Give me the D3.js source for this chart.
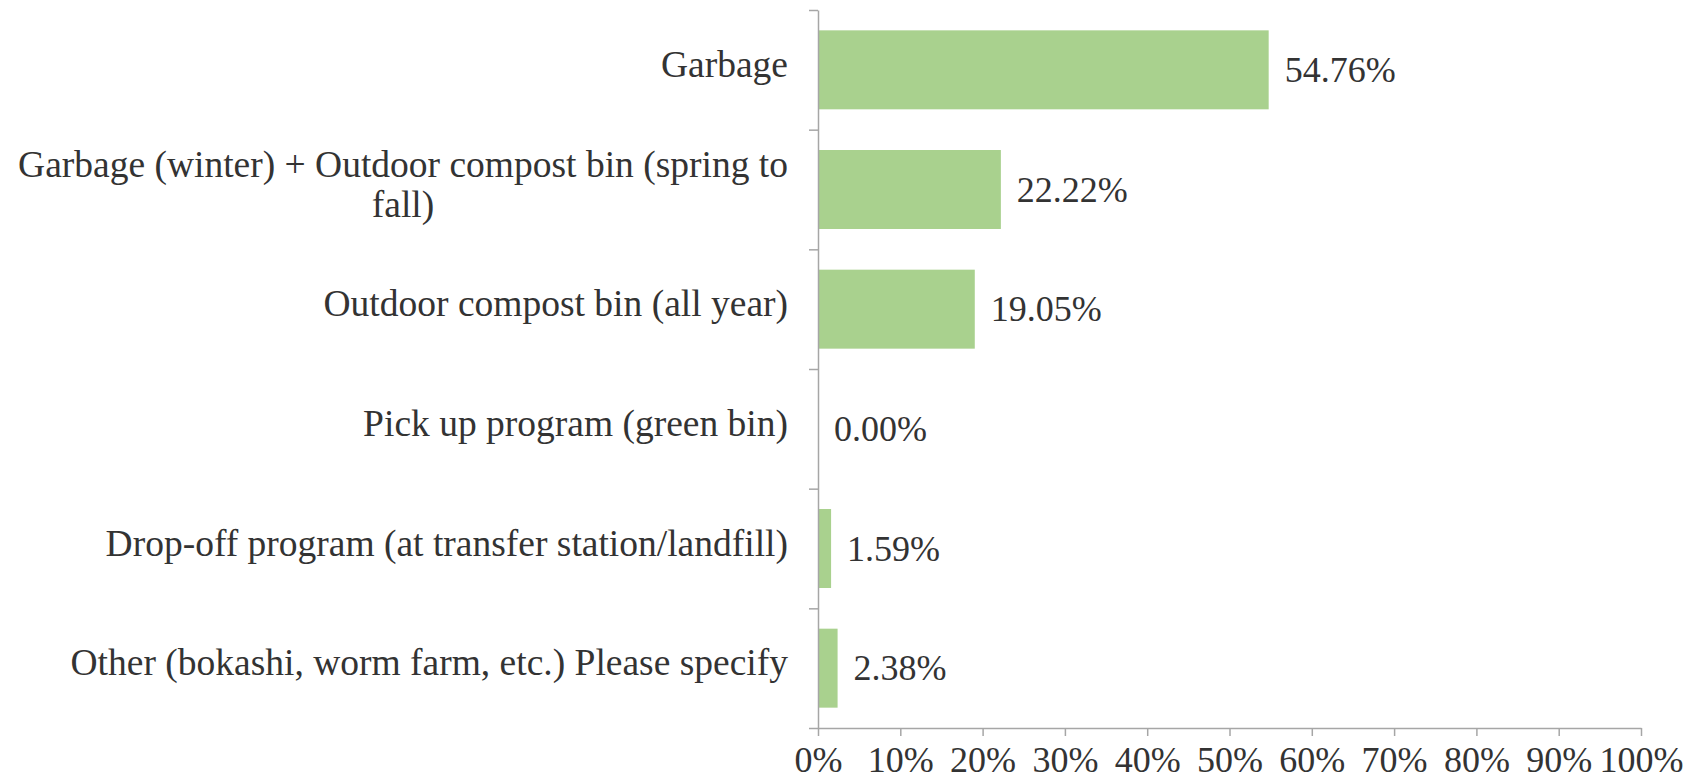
<!DOCTYPE html>
<html>
<head>
<meta charset="utf-8">
<script src="https://cdn.jsdelivr.net/npm/d3@7"></script>
<style>
  body { margin: 0; background: #fff; }
  text { font-family: "Liberation Serif", "Times New Roman", serif; fill: #333; }
</style>
</head>
<body>
<div id="chart"></div>
<script>
// Data
const categories = [
  "Garbage",
  "Garbage (winter) + Outdoor compost bin (spring to fall)",
  "Outdoor compost bin (all year)",
  "Pick up program (green bin)",
  "Drop-off program (at transfer station/landfill)",
  "Other (bokashi, worm farm, etc.) Please specify"
];
const shares = [0.5476, 0.2222, 0.1905, 0.0000, 0.0159, 0.0238];
const xTicks = [0, 0.1, 0.2, 0.3, 0.4, 0.5, 0.6, 0.7, 0.8, 0.9, 1.0];

const W = 1708, H = 777;
const plot = {left: 818, right: 1641, top: 10, bottom: 728};
const fontSize = 36;
const catFontSize = 37.5;
const axisColor = "#a6a6a6";

const svg = d3.select("#chart")
    .append("svg")
    .attr("width", W)
    .attr("height", H);

// Scales
const x = d3.scaleLinear().domain([0, 1]).range([plot.left, plot.right]);
const y = d3.scaleBand()
    .domain(categories)
    .range([plot.top, plot.bottom])
    .paddingInner(0.34)
    .paddingOuter(0.17);
// boundaries between categories, for the y tick marks
const yEdge = d3.scaleLinear().domain([0, categories.length]).range([plot.top, plot.bottom]);

// Bars
svg.selectAll("rect.bar")
    .data(shares)
    .enter()
    .append("rect")
    .attr("class", "bar")
    .attr("x", x(0))
    .attr("y", (d, i) => y(categories[i]))
    .attr("width", d => x(d) - x(0))
    .attr("height", y.bandwidth())
    .attr("fill", "#a9d18e");

// Y axis (ticks at category boundaries)
const yAxis = svg.append("g")
    .attr("transform", `translate(${plot.left},0)`)
    .call(d3.axisLeft(yEdge)
        .tickValues(d3.range(0, categories.length + 1))
        .tickSize(9)
        .tickSizeOuter(0)
        .tickFormat(""));
yAxis.select(".domain").attr("stroke", axisColor).attr("stroke-width", 1.5);
yAxis.selectAll(".tick line").attr("stroke", axisColor).attr("stroke-width", 1.5);

// X axis
const xAxis = svg.append("g")
    .attr("transform", `translate(0,${plot.bottom})`)
    .call(d3.axisBottom(x)
        .tickValues(xTicks)
        .tickSize(8)
        .tickSizeOuter(0)
        .tickFormat(d3.format(".0%")));
xAxis.select(".domain").attr("stroke", axisColor).attr("stroke-width", 1.5);
xAxis.selectAll(".tick line").attr("stroke", axisColor).attr("stroke-width", 1.5);
xAxis.selectAll(".tick text")
    .attr("fill", "#333")
    .attr("dy", null)
    .attr("y", 44)
    .style("font-size", fontSize + "px")
    .style("font-family", "'Liberation Serif', serif");

// Category labels, wrapped to fit; wrapped lines are centred on each other
const maxWidth = 790;
const labels = svg.selectAll("text.cat")
    .data(categories)
    .enter()
    .append("text")
    .attr("class", "cat")
    .style("font-size", catFontSize + "px");

labels.each(function(d) {
    const t = d3.select(this);
    const words = d.split(" ");
    const lines = [];
    let line = [];
    const probe = t.append("tspan");
    const measure = s => { probe.text(s); return probe.node().getComputedTextLength(); };
    words.forEach(w => {
        line.push(w);
        if (measure(line.join(" ")) > maxWidth && line.length > 1) {
            line.pop();
            lines.push(line.join(" "));
            line = [w];
        }
    });
    lines.push(line.join(" "));
    const blockW = d3.max(lines, measure);
    probe.remove();
    const cy = y(d) + y.bandwidth() / 2;
    const xr = plot.left - 30;
    lines.forEach((l, i) => {
        t.append("tspan")
            .attr("text-anchor", lines.length > 1 ? "middle" : "end")
            .attr("x", lines.length > 1 ? xr - blockW / 2 : xr)
            .attr("y", cy + 7 + (i - (lines.length - 1) / 2) * 40)
            .text(l);
    });
});

// Value labels
svg.selectAll("text.val")
    .data(shares)
    .enter()
    .append("text")
    .attr("class", "val")
    .attr("x", d => x(d) + 16)
    .attr("y", (d, i) => y(categories[i]) + y.bandwidth() / 2 + 12)
    .style("font-size", fontSize + "px")
    .text(d => d3.format(".2%")(d));
</script>
</body>
</html>
